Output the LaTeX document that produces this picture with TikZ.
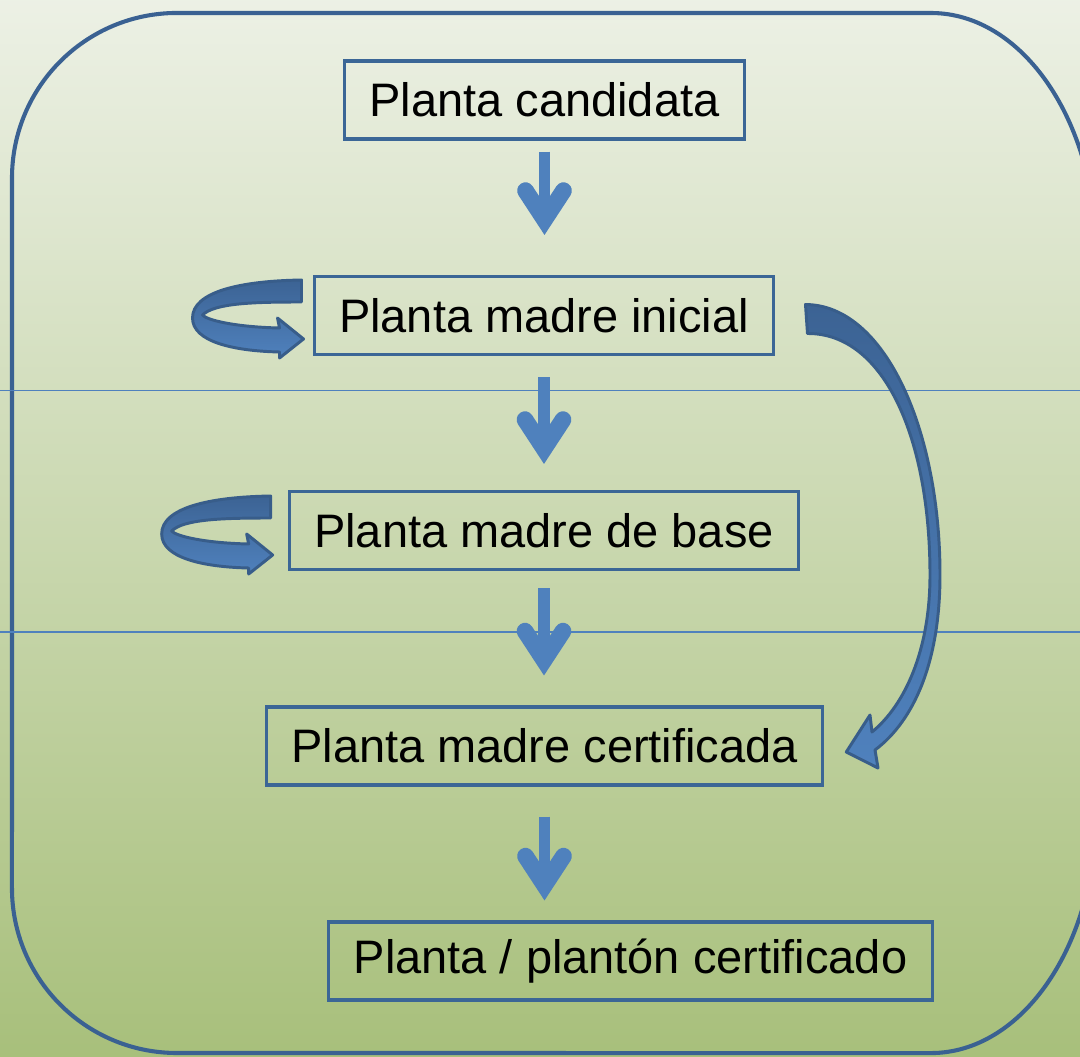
\documentclass[tikz,border=0pt]{standalone}
\usepackage{fontspec}
\setmainfont{Liberation Sans}
\usepackage{xcolor}
\usepackage{tikz}
\usetikzlibrary{arrows.meta,calc}
\definecolor{frameblue}{RGB}{58,97,146}
\definecolor{boxblue}{RGB}{59,102,150}
\definecolor{arrowblue}{RGB}{79,129,189}
\definecolor{darkblue}{RGB}{60,99,148}
\definecolor{edgeblue}{RGB}{56,93,138}
\definecolor{bgtop}{RGB}{237,241,230}
\definecolor{bgbottom}{RGB}{167,191,122}

\tikzset{
  stage/.style={draw=boxblue, line width=2.2pt, minimum height=1.95cm, inner xsep=0.625cm,
    font=\fontsize{33.4}{40}\selectfont},
  flowarrow/.style={draw=arrowblue, line width=8.5pt,
    -{Straight Barb[length=0.725cm, width=0.95cm, line width=0pt 1.4, line cap=round, line join=miter]}},
  guideline/.style={draw=arrowblue, line width=1.1pt},
  bigarrow/.style={draw=edgeblue, line width=2.1pt, top color=darkblue, bottom color=arrowblue, line join=round},
  loopback/.pic={
    \path[bigarrow]
      (-2,-59) .. controls (-64,-58) and (-111,-47) .. (-111,-21)
      .. controls (-111,3) and (-69,12) .. (-24,13)
      -- (-24,19) -- (0,0) -- (-26,-21) -- (-24,-11)
      .. controls (-69,-12) and (-97,-19) .. (-101,-24)
      .. controls (-89,-36) and (-49,-37) .. (-2,-37) -- cycle;
  }
}

\begin{document}
\begin{tikzpicture}[x=0.025cm, y=-0.025cm]

\useasboundingbox (0,0) rectangle (1080,1057);
\begin{scope}
\clip (0,0) rectangle (1080,1057);
\shade[top color=bgtop, bottom color=bgbottom] (-10,-10) rectangle (1090,1067);
% frame, right corners flatter than left ones
\draw[frameblue, line width=2.9pt] (177,13) -- (931,13)
  arc[start angle=90, end angle=0, x radius=4.125cm, y radius=6cm] -- (1096,813)
  arc[start angle=0, end angle=-90, x radius=4.125cm, y radius=6cm] -- (177,1053)
  arc[start angle=270, end angle=180, radius=4.125cm] -- (12,178)
  arc[start angle=180, end angle=90, radius=4.125cm] -- cycle;
\end{scope}
\draw[guideline] (0,390.5) -- (1080,390.5);
\draw[guideline] (0,632) -- (1080,632);

\node (p1) at (544.5,100) [stage]{Planta candidata};
\node (p2) at (544,315.5) [stage]{Planta madre inicial};
\node (p3) at (544,530.5) [stage]{Planta madre de base};
\node (p4) at (544.5,746) [stage]{Planta madre certificada};
\node (p5) at (630.5,961) [stage]{Planta / plantón certificado};

\draw[flowarrow] ($(p1.south)+(0,11)$) -- ($(p1.south |- p2.north)+(0,-40)$);
\draw[flowarrow] ($(p2.south)+(0,21)$) -- ($(p2.south |- p3.north)+(0,-26)$);
\draw[flowarrow] ($(p3.south)+(0,17)$) -- ($(p3.south |- p4.north)+(0,-30)$);
\draw[flowarrow] ($(p4.south)+(0,30)$) -- ($(p4.south |- p5.north)+(0,-20)$);

\pic at ($(p2.west)+(-9,23.5)$) {loopback};
\pic at ($(p3.west)+(-15,24.5)$) {loopback};

\path[bigarrow] ($(p2.east)+(30,-11)$)
  .. controls (885,305) and (940,430) .. (940,575)
  .. controls (940,660) and (915,720) .. (875,750)
  -- (878,768) -- ($(p4.east)+(22,6)$) -- (870,715) -- (872,732)
  .. controls (905,705) and (930,650) .. (930,575)
  .. controls (930,440) and (885,333) .. ($(p2.east)+(32,18)$) -- cycle;

\end{tikzpicture}
\end{document}
